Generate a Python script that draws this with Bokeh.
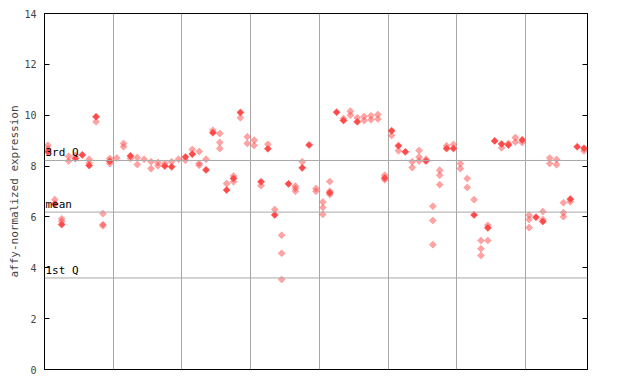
from bokeh.plotting import figure
from bokeh.models import Range1d, LinearAxis, FixedTicker, Span, Label
from bokeh.embed import file_html
from bokeh.resources import INLINE

# expression values per sample (79 samples); "light" = hatched markers, "solid" = filled markers
light_values = [
    [8.82, 8.68], [6.68], [5.93, 5.83], [8.38, 8.20], [8.42], [], [8.27, 8.12], [9.74],
    [6.13, 5.70, 5.65], [8.30, 8.10], [8.32], [8.89, 8.76], [8.30], [8.34, 8.06], [8.27],
    [8.17, 7.90], [8.14, 8.01], [8.10], [8.17], [8.27],
    [8.23], [8.65], [8.57, 8.10, 8.03], [8.27], [9.41], [9.28, 8.93, 8.69], [7.31],
    [7.61, 7.38], [9.90], [9.15, 8.89], [9.02, 8.81], [7.23], [8.86], [6.29],
    [5.28, 4.57, 3.54], [], [7.21, 7.12, 7.01], [8.17], [], [7.12, 7.01],
    [6.59, 6.37, 6.10], [7.39, 7.01, 6.88], [], [9.87], [10.16, 10.00], [9.90],
    [9.95, 9.79], [9.98, 9.82], [10.03, 9.85], [7.64, 7.46], [9.20], [8.60], [],
    [8.17, 7.94], [8.61, 8.36, 8.20], [8.27], [6.42, 5.86, 4.91], [7.84, 7.64, 7.27],
    [8.80], [8.85],
    [8.10, 7.90], [7.51, 7.16], [6.68], [5.07, 4.75, 4.48], [5.67, 5.07], [], [8.72],
    [8.89], [9.12, 8.95], [8.93], [6.07, 5.90, 5.58], [], [6.21, 5.90], [8.32, 8.10],
    [8.26, 8.05], [6.56, 6.17, 6.01], [6.60], [], [8.59],
]
solid_values = [
    8.56, 6.51, 5.70, None, 8.30, 8.44, 8.02, 9.94, None, 8.19,
    None, None, 8.40, None, None, None, None, 8.00, 7.97, None,
    8.36, 8.47, None, 7.85, 9.31, None, 7.06, 7.51, 10.11, None,
    None, 7.38, 8.68, 6.08, None, 7.30, None, 7.93, 8.83, None,
    None, 6.95, 10.12, 9.79, None, 9.74, None, None, None, 7.53,
    9.39, 8.80, 8.56, None, None, 8.20, None, None, 8.69, 8.69,
    None, None, 6.08, None, 5.57, 8.99, 8.87, 8.83, None, 9.03,
    None, 5.99, 5.82, None, None, None, 6.70, 8.76, 8.70,
]
quartiles = [8.22, 6.19, 3.60]
quartile_labels = ["3rd Q", "mean", "1st Q"]
y_ticks = [0, 2, 4, 6, 8, 10, 12, 14]
group_bounds = [10, 20, 30, 40, 50, 60, 70]

n = len(solid_values)
lx, ly = [], []
for i, vals in enumerate(light_values):
    for v in vals:
        lx.append(i + 0.5)
        ly.append(v)
sx, sy = [], []
for i, v in enumerate(solid_values):
    if v is not None:
        sx.append(i + 0.5)
        sy.append(v)

MONO = "DejaVu Sans Mono"
RED = "#ff4a4a"

p = figure(width=632, height=376, output_backend="svg", toolbar_location=None,
           x_range=Range1d(0, n), y_range=Range1d(0, 14),
           min_border_left=44, min_border_right=45, min_border_top=13, min_border_bottom=7)
p.background_fill_color = "white"
p.border_fill_color = "white"
p.outline_line_color = "black"
p.outline_line_width = 1
p.outline_line_alpha = 1

p.xaxis.visible = False
p.xgrid.ticker = FixedTicker(ticks=group_bounds)
p.xgrid.grid_line_color = "#a8a8a8"
p.xgrid.grid_line_width = 1
p.ygrid.visible = False

ya = p.yaxis[0]
ya.ticker = FixedTicker(ticks=y_ticks)
ya.axis_label = "affy-normalized expression"
ya.axis_label_text_font = MONO
ya.axis_label_text_font_size = "11px"
ya.axis_label_text_font_style = "normal"
ya.axis_label_standoff = 0
ya.major_label_text_font = MONO
ya.major_label_text_font_size = "10px"
ya.major_label_standoff = 8
ya.major_tick_in = 5
ya.major_tick_out = 0
ya.minor_tick_line_color = None
ya.axis_line_color = "black"

ra = LinearAxis(ticker=FixedTicker(ticks=y_ticks))
ra.major_tick_in = 5
ra.major_tick_out = 0
ra.minor_tick_line_color = None
ra.major_label_text_font_size = "0px"
ra.major_label_text_color = None
ra.axis_line_color = "black"
p.add_layout(ra, "right")

for q, lab in zip(quartiles, quartile_labels):
    p.add_layout(Span(location=q, dimension="width", line_color="#a8a8a8", line_width=1))
    p.add_layout(Label(x=0, y=q, text=lab, x_offset=1, y_offset=1,
                       text_font=MONO, text_font_size="11px", text_color="black",
                       text_baseline="bottom"))

p.scatter(x=lx, y=ly, marker="square", angle=0.785398, size=5,
          fill_color=RED, fill_alpha=0.5, line_color=RED, line_alpha=0.5, line_width=0.5)
p.scatter(x=sx, y=sy, marker="square", angle=0.785398, size=5,
          fill_color=RED, line_color=RED, line_width=0.5)

open("out.html", "w").write(file_html(p, INLINE))
